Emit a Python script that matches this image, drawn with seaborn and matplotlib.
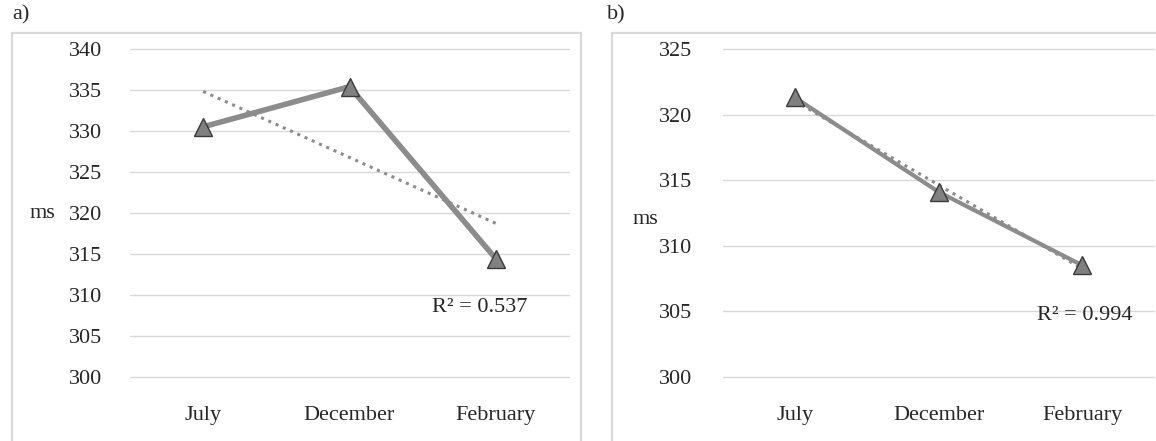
import matplotlib
matplotlib.use("Agg")
import matplotlib.pyplot as plt
from matplotlib.patches import Rectangle
import seaborn as sns
import pandas as pd
import numpy as np

months = ["July", "December", "February"]
values_a = [330.5, 335.4, 314.4]
values_b = [321.3, 314.1, 308.5]
ticks_a = [300, 305, 310, 315, 320, 325, 330, 335, 340]
ticks_b = [300, 305, 310, 315, 320, 325]
r2_a = "R² = 0.537"
r2_b = "R² = 0.994"

sns.set_theme(style="white")
plt.rcParams['font.family'] = ['Liberation Serif', 'DejaVu Serif']

W, H = 1156, 441
FS = 16
fig = plt.figure(figsize=(W / 100, H / 100), dpi=100)

def fx(px):
    return px / W

def fy(py):
    return 1 - py / H

# panel frames
for x0, x1 in [(12.5, 581), (612, 1160)]:
    fig.patches.append(Rectangle((fx(x0), fy(446)), fx(x1 - x0), (446 - 33) / H,
                                 transform=fig.transFigure, fill=False,
                                 edgecolor="#d9d9d9", linewidth=1.6))
fig.text(fx(12), fy(15), "a)", fontsize=FS, va="center", ha="left")
fig.text(fx(607), fy(15), "b)", fontsize=FS, va="center", ha="left")

ax_top, ax_bot = 49, 376.7
specs = [
    (130, 569, values_a, ticks_a, r2_a, (480, 308), (42, 213), 20, 4),
    (723, 1154, values_b, ticks_b, r2_b, (1085, 315), (645, 219), 22, 3),
]

for (xl, xr, vals, ticks, r2, r2pos, mspos, pad, lw) in specs:
    ax = fig.add_axes([fx(xl), fy(ax_bot), fx(xr - xl), (ax_bot - ax_top) / H])
    df = pd.DataFrame({"month": months, "ms": vals, "idx": np.arange(len(months))})
    sns.regplot(data=df, x="idx", y="ms", ax=ax, ci=None, scatter=False,
                line_kws=dict(color="#8c8c8c", linestyle=(0, (1, 1.6)), linewidth=2.2))
    sns.lineplot(data=df, x="idx", y="ms", ax=ax, color="#8c8c8c", linewidth=lw,
                 marker="^", markersize=13, markerfacecolor="#808080",
                 markeredgecolor="#3a3a3a", markeredgewidth=1.0, zorder=5)
    ax.set_xlim(-0.5, 2.5)
    ax.set_ylim(ticks[0], ticks[-1])
    ax.set_yticks(ticks)
    ax.set_yticklabels([str(t) for t in ticks])
    ax.set_xticks(range(len(months)))
    ax.set_xticklabels(months)
    ax.tick_params(axis="y", length=0, pad=pad, labelsize=FS)
    ax.tick_params(axis="x", length=0, pad=21, labelsize=FS)
    ax.grid(axis="y", color="#d9d9d9", linewidth=1.0)
    ax.grid(axis="x", visible=False)
    for gl in ax.yaxis.get_gridlines():
        gl.set_clip_on(False)
    for s in ax.spines.values():
        s.set_visible(False)
    ax.set_xlabel("")
    ax.set_ylabel("")
    ax.set_axisbelow(True)
    fig.text(fx(r2pos[0]), fy(r2pos[1]), r2, fontsize=FS, ha="center", va="center")
    fig.text(fx(mspos[0]), fy(mspos[1]), "ms", fontsize=FS, ha="center", va="center")

fig.savefig("out.png", dpi=100)
